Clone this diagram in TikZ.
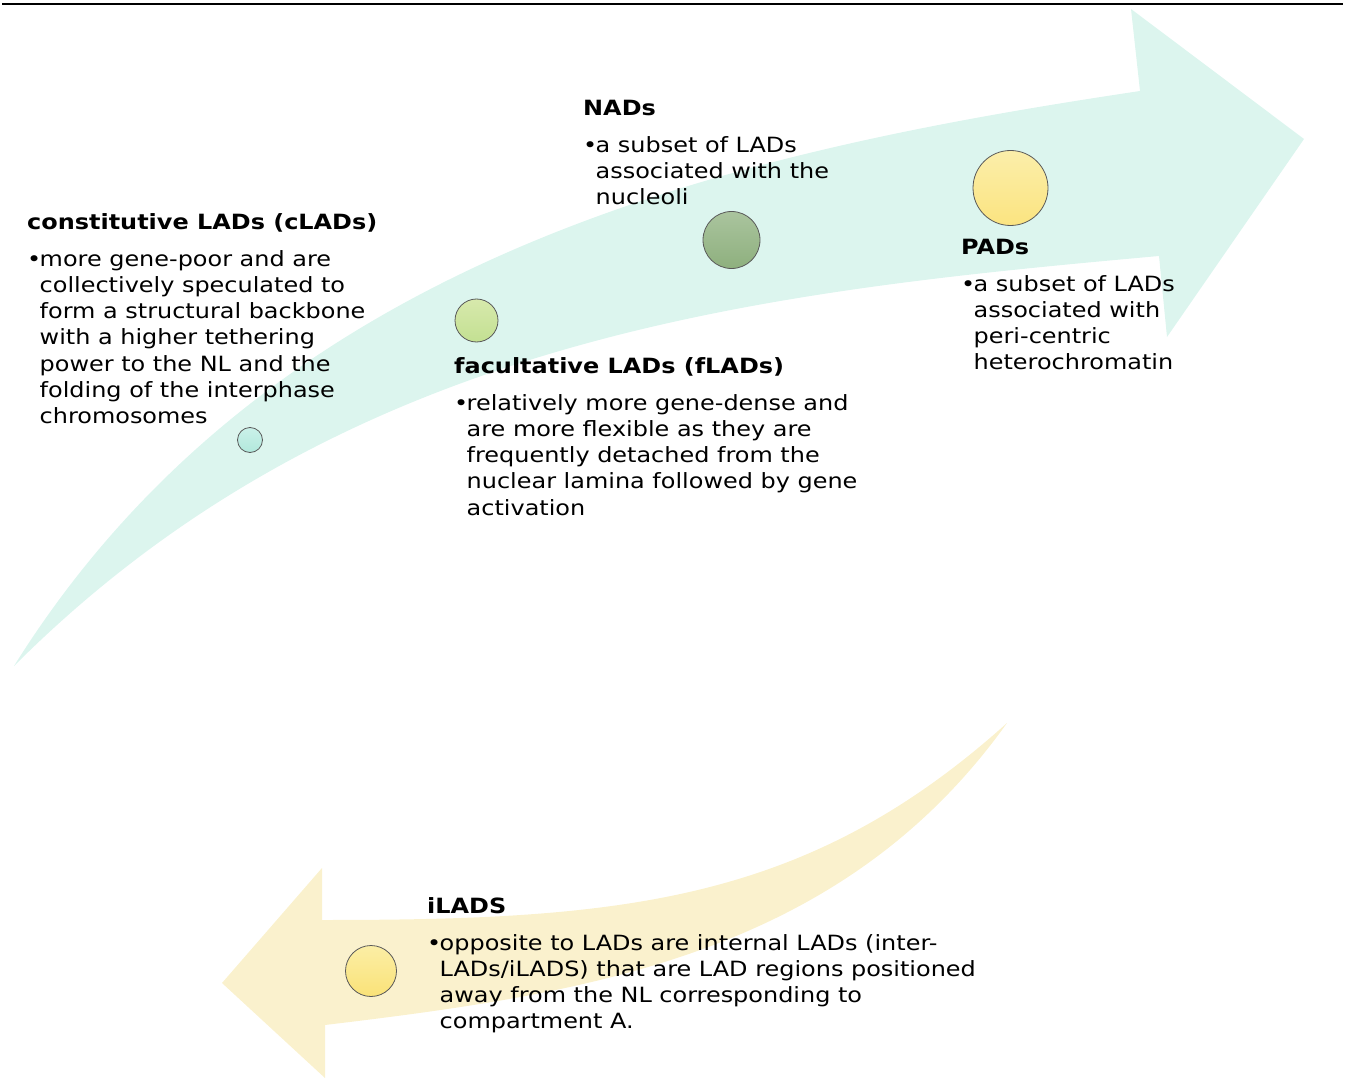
\documentclass[tikz,border=0pt]{standalone}
\usepackage{fontspec}
\setmainfont{DejaVu Sans}[FakeStretch=1.14]
\definecolor{bandgreen}{HTML}{DCF5EE}
\definecolor{bandyellow}{HTML}{FAF1CD}
\newcommand{\bul}{\makebox[12.5pt][l]{•}}
\begin{document}
\begin{tikzpicture}[x=1pt,y=-1pt,
  titletext/.style={anchor=base west,inner sep=0pt,font=\fontsize{21}{26.15}\selectfont\bfseries},
  bodytext/.style={anchor=base west,inner sep=0pt,font=\fontsize{21}{26.15}\selectfont},
  dot/.style={circle,inner sep=0pt,draw=black!65,line width=0.8pt}]
\useasboundingbox (0,0) rectangle (1349,1083);
% top rule
\draw[line width=2pt] (2,4.5) -- (1343,4.5);
% green arrow
\coordinate (gtail) at (14,666);
\coordinate (gup) at (1140,91);
\coordinate (glo) at (1159,256);
\fill[bandgreen] (gtail) .. controls (274,250) and (740,151) .. (gup)
  -- (1131,9) -- (1304,139) -- (1167,337) -- (glo)
  .. controls (759,292) and (344,336) .. (gtail) -- cycle;
% yellow arrow
\coordinate (ytail) at (1007,723);
\coordinate (yup) at (322,920);
\coordinate (ylo) at (325,1025);
\fill[bandyellow] (yup) .. controls (622,920) and (807,903) .. (ytail)
  .. controls (840,956.8) and (582.6,994) .. (ylo)
  -- (325,1078) -- (222,983) -- (322,868) -- cycle;
% circles
\node[dot,minimum size=25pt,top color={rgb,255:red,202;green,241;blue,233},bottom color={rgb,255:red,178;green,232;blue,220}] (c1) at (250,440) {};
\node[dot,minimum size=43pt,top color={rgb,255:red,215;green,233;blue,172},bottom color={rgb,255:red,195;green,224;blue,146}] (c2) at (476.5,320.5) {};
\node[dot,minimum size=57pt,top color={rgb,255:red,170;green,196;blue,158},bottom color={rgb,255:red,142;green,176;blue,126}] (c3) at (731.5,240) {};
\node[dot,minimum size=75pt,top color={rgb,255:red,251;green,238;blue,170},bottom color={rgb,255:red,251;green,228;blue,128}] (c4) at (1010.5,188) {};
\node[dot,minimum size=51pt,top color={rgb,255:red,251;green,238;blue,165},bottom color={rgb,255:red,250;green,226;blue,120}] (c5) at (371,971) {};
% texts
\node[titletext] (t1) at (27,229.5) {constitutive LADs (cLADs)};
\node[bodytext] (b1) at (27,266.5) {\begin{tabular}[t]{@{}l@{}l@{}}\bul&more gene-poor and are\\&collectively speculated to\\&form a structural backbone\\&with a higher tethering\\&power to the NL and the\\&folding of the interphase\\&chromosomes\end{tabular}};
\node[titletext] (t2) at (583,115.5) {NADs};
\node[bodytext] (b2) at (583,152.5) {\begin{tabular}[t]{@{}l@{}l@{}}\bul&a subset of LADs\\&associated with the\\&nucleoli\end{tabular}};
\node[titletext] (t3) at (454,373.5) {facultative LADs (fLADs)};
\node[bodytext] (b3) at (454,410.5) {\begin{tabular}[t]{@{}l@{}l@{}}\bul&relatively more gene-dense and\\&are more flexible as they are\\&frequently detached from the\\&nuclear lamina followed by gene\\&activation\end{tabular}};
\node[titletext] (t4) at (961,254.5) {PADs};
\node[bodytext] (b4) at (961,291.5) {\begin{tabular}[t]{@{}l@{}l@{}}\bul&a subset of LADs\\&associated with\\&peri-centric\\&heterochromatin\end{tabular}};
\node[titletext] (t5) at (427,913.5) {iLADS};
\node[bodytext] (b5) at (427,950.5) {\begin{tabular}[t]{@{}l@{}l@{}}\bul&opposite to LADs are internal LADs (inter-\\&LADs/iLADS) that are LAD regions positioned\\&away from the NL corresponding to\\&compartment A.\end{tabular}};
\end{tikzpicture}
\end{document}
